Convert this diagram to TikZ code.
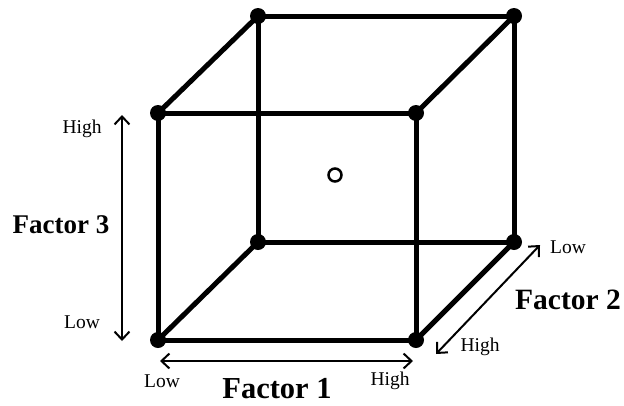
\documentclass[tikz,border=0pt]{standalone}
\usepackage{fontspec}
\setmainfont{Liberation Serif}
\usetikzlibrary{arrows.meta}
\begin{document}
\begin{tikzpicture}[x=1pt,y=-1pt,
  edge/.style={line width=5pt},
  vtx/.style={circle,fill=black,inner sep=0pt,minimum size=16pt},
  dimarrow/.style={line width=2pt,{Straight Barb[length=8pt,width=15pt]}-{Straight Barb[length=8pt,width=15pt]}},
  small/.style={font=\fontsize{19.5}{19.5}\selectfont,inner sep=0pt},
  big/.style={font=\fontsize{27}{27}\selectfont\bfseries,inner sep=0pt}]
\useasboundingbox (0,0) rectangle (624,405);
% vertices
\coordinate (FTL) at (158,113);
\coordinate (FTR) at (416,113);
\coordinate (FBL) at (158,340);
\coordinate (FBR) at (416,340);
\coordinate (BTL) at (258,16);
\coordinate (BTR) at (514,16);
\coordinate (BBL) at (258,242);
\coordinate (BBR) at (514,242);
% edges
\draw[edge] (FTL) -- (FTR) -- (FBR) -- (FBL) -- cycle;
\draw[edge] (BTL) -- (BTR) -- (BBR) -- (BBL) -- cycle;
\draw[edge] (FTL) -- (BTL);
\draw[edge] (FTR) -- (BTR);
\draw[edge] (FBL) -- (BBL);
\draw[edge] (FBR) -- (BBR);
% dots
\foreach \p in {FTL,FTR,FBL,FBR,BTL,BTR,BBL,BBR}
  \node[vtx] at (\p) {};
% center point
\node[circle,draw,line width=2.5pt,minimum size=13pt,inner sep=0pt] (ctr) at (335,175) {};
% Factor 3
\coordinate (f3a) at (122,115);
\coordinate (f3b) at (122,341);
\draw[dimarrow] (f3a) -- (f3b);
\node[small] (h3) at (82,129) {High};
\node[small] (l3) at (82,322) {Low};
\node[big] (F3) at (61,225) {Factor 3};
% Factor 1
\coordinate (f1a) at (160,361);
\coordinate (f1b) at (413,361);
\draw[dimarrow] (f1a) -- (f1b);
\node[small] (l1) at (162,381) {Low};
\node[small] (h1) at (390,381) {High};
\node[big,font=\fontsize{30.5}{30.5}\selectfont\bfseries] (F1) at (277,389) {Factor 1};
% Factor 2
\coordinate (f2a) at (540,245);
\coordinate (f2b) at (436,354);
\draw[dimarrow] (f2a) -- (f2b);
\node[small] (l2) at (568,247) {Low};
\node[small] (h2) at (480,347) {High};
\node[big,font=\fontsize{29.5}{29.5}\selectfont\bfseries] (F2) at (568,300) {Factor 2};
\end{tikzpicture}
\end{document}
